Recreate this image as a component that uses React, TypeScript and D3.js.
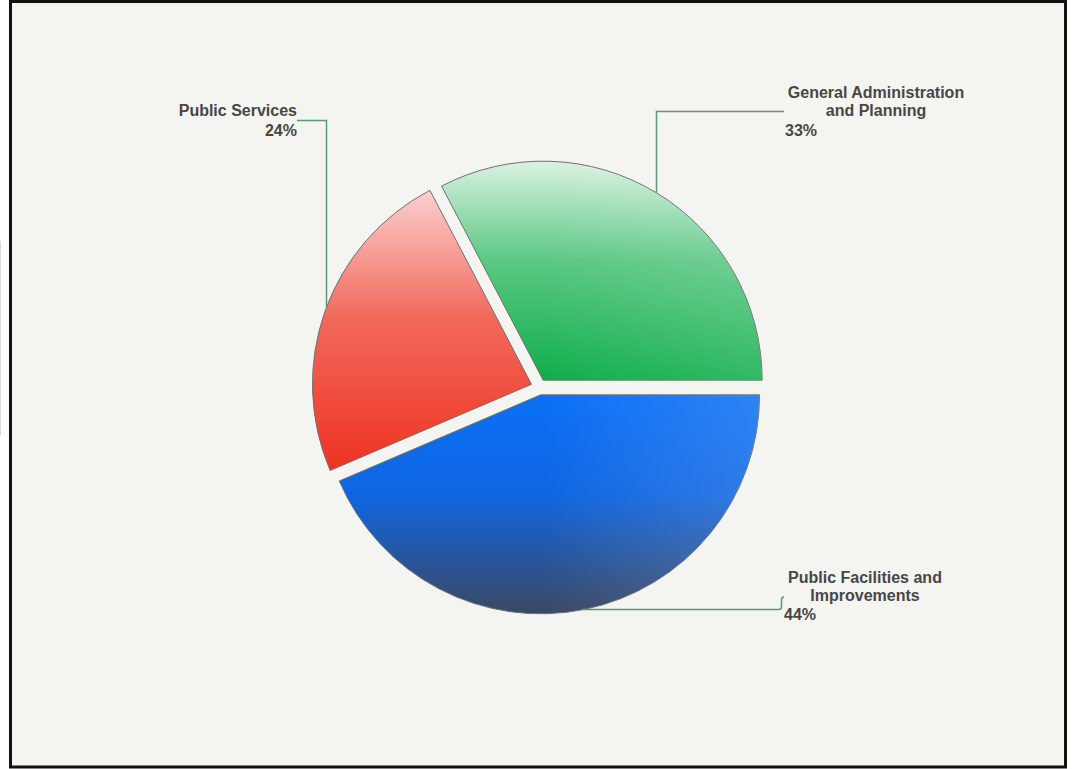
import React, { useEffect } from 'react';
import * as d3 from 'd3';

// ---- data ----
const categories = ['Public Facilities and Improvements', 'Public Services', 'General Administration and Planning'];
const values = [44, 24, 33];
const percentLabels = ['44%', '24%', '33%'];
const labelLines = [['Public Facilities and', 'Improvements'], ['Public Services'], ['General Administration', 'and Planning']];
const topColors = ['#0a70f6', '#fcd0cf', '#daf2e2'];
const midColors = ['#0f66e2', '#f26a5c', '#5cc884'];
const bottomColors = ['#3b4863', '#ee3322', '#0fae4a'];

// ---- layout ----
const W = 1074;
const H = 769;
const CX = 539;
const CY = 387;
const R = 219;
const EXPLODE = 8;
const BG = '#f4f4f0';
const LEADER = '#5a9680';
const TEXT = '#474747';
const FONT = '"Liberation Sans", Arial, Helvetica, sans-serif';

export default function App() {
  useEffect(() => {
    document.body.style.margin = '0';
  }, []);

  const pie = d3
    .pie<number>()
    .sort(null)
    .value((d) => d)
    .startAngle(Math.PI / 2)
    .endAngle(Math.PI / 2 + Math.PI * 2);
  const arcs = pie(values);
  const arc = d3.arc<d3.PieArcDatum<number>>().innerRadius(0).outerRadius(R);

  const centers = arcs.map((a) => {
    const mid = (a.startAngle + a.endAngle) / 2;
    return [CX + Math.sin(mid) * EXPLODE, CY - Math.cos(mid) * EXPLODE];
  });

  // leader geometry
  const yOnArc = (i: number, x: number) => {
    const [sx, sy] = centers[i];
    return sy - Math.sqrt(R * R - (x - sx) * (x - sx));
  };
  const xOnArc = (i: number, y: number) => {
    const [sx, sy] = centers[i];
    return sx + Math.sqrt(R * R - (y - sy) * (y - sy));
  };

  const psX = 326.5;
  const psY = 120.5;
  const psPath = `M${psX},${yOnArc(1, psX)} V${psY} H297`;

  const gaX = 656.5;
  const gaY = 111.5;
  const gaPath = `M${gaX},${yOnArc(2, gaX)} V${gaY} H784`;

  const pfY = 609.5;
  const pfPath = `M${xOnArc(0, pfY) - 2},${pfY} H779 Q781.5,${pfY} 781.5,${pfY - 3} V599.5 Q781.5,597 784,597`;

  const textStyle: React.CSSProperties = { fontFamily: FONT, fontWeight: 700, fontSize: 16, fill: TEXT };

  return (
    <div style={{ position: 'absolute', left: 0, top: 0 }}>
      <svg width={W} height={H} viewBox={`0 0 ${W} ${H}`} style={{ display: 'block' }}>
        <rect x={0} y={0} width={W} height={H} fill="#ffffff" />
        <line x1={0.5} y1={241} x2={0.5} y2={435} stroke="#dadada" strokeWidth={1} />
        <rect x={10.5} y={1.5} width={1055} height={765.5} fill={BG} stroke="#111111" strokeWidth={3} />
        <defs>
          {arcs.map((a, i) => (
            <linearGradient key={`g${i}`} id={`grad${i}`} x1="0" y1="0" x2="0" y2="1">
              <stop offset="0%" stopColor={topColors[i]} />
              <stop offset="45%" stopColor={midColors[i]} />
              <stop offset="100%" stopColor={bottomColors[i]} />
            </linearGradient>
          ))}
          <linearGradient id="sheen" gradientUnits="userSpaceOnUse" x1={0} y1={0} x2={R} y2={0}>
            <stop offset="0%" stopColor="#ffffff" stopOpacity={0} />
            <stop offset="100%" stopColor="#ffffff" stopOpacity={0.14} />
          </linearGradient>
        </defs>
        {arcs.map((a, i) => (
          <g key={categories[i]} transform={`translate(${centers[i][0]},${centers[i][1]})`}>
            <path d={arc(a) || ''} fill={`url(#grad${i})`} stroke="#707070" strokeWidth={1} />
            <path d={arc(a) || ''} fill="url(#sheen)" />
          </g>
        ))}
        <path d={psPath} fill="none" stroke={LEADER} strokeWidth={1.5} />
        <path d={gaPath} fill="none" stroke={LEADER} strokeWidth={1.5} />
        <path d={pfPath} fill="none" stroke={LEADER} strokeWidth={1.5} />

        {/* Public Services */}
        <text style={textStyle} textAnchor="end" x={297} y={116}>
          {labelLines[1][0]}
        </text>
        <text style={textStyle} textAnchor="end" x={297} y={135.5}>
          {percentLabels[1]}
        </text>

        {/* General Administration and Planning */}
        {labelLines[2].map((t, k) => (
          <text key={t} style={textStyle} textAnchor="middle" x={876} y={98 + k * 18}>
            {t}
          </text>
        ))}
        <text style={textStyle} textAnchor="start" x={785} y={136}>
          {percentLabels[2]}
        </text>

        {/* Public Facilities and Improvements */}
        {labelLines[0].map((t, k) => (
          <text key={t} style={textStyle} textAnchor="middle" x={865} y={583 + k * 18}>
            {t}
          </text>
        ))}
        <text style={textStyle} textAnchor="start" x={784} y={620}>
          {percentLabels[0]}
        </text>
      </svg>
    </div>
  );
}
